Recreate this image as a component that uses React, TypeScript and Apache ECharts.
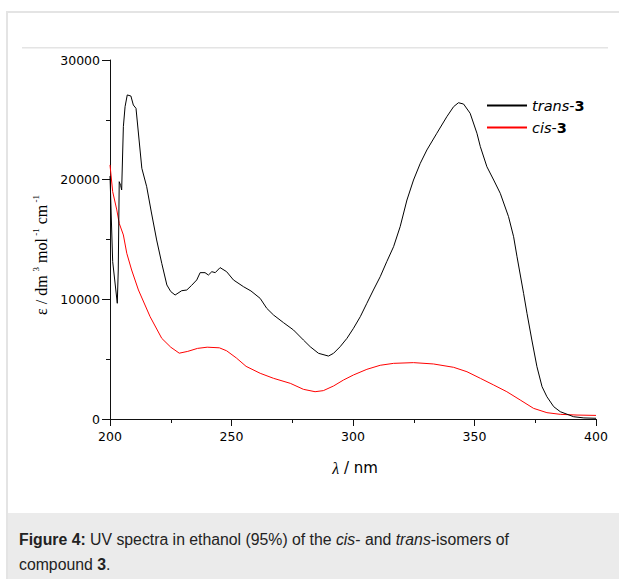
import React, { useEffect, useRef } from "react";
import * as echarts from "echarts";

const transLambda = [200.0, 201.1, 203.0, 203.4, 203.8, 204.4, 204.8, 205.5, 206.2, 207.1, 208.6, 209.6, 210.7, 213.1, 215.1, 217.0, 219.2, 221.3, 223.4, 225.0, 226.8, 229.5, 231.6, 233.5, 235.7, 237.1, 239.1, 240.5, 241.9, 243.3, 245.3, 248.0, 250.8, 254.9, 258.0, 261.8, 264.5, 267.3, 271.4, 275.5, 279.6, 282.4, 285.8, 289.9, 292.0, 294.7, 297.5, 300.2, 303.0, 305.7, 308.4, 311.2, 313.9, 316.7, 319.4, 322.2, 324.9, 327.7, 330.4, 334.5, 338.6, 341.4, 343.4, 345.5, 348.2, 351.0, 352.4, 355.1, 357.9, 360.6, 364.0, 366.1, 367.5, 370.2, 371.6, 373.6, 375.7, 377.8, 379.8, 382.6, 385.3, 390.8, 395.0, 400.0];
const transEps = [20300, 13150, 9670, 12450, 19830, 19500, 19140, 24430, 26100, 27080, 26990, 26240, 25960, 20950, 19410, 17300, 14960, 13010, 11200, 10650, 10360, 10720, 10780, 11150, 11620, 12230, 12230, 12030, 12310, 12230, 12650, 12310, 11620, 11060, 10700, 10080, 9250, 8690, 8050, 7440, 6600, 6040, 5490, 5260, 5490, 6040, 6740, 7580, 8550, 9670, 10780, 11890, 13150, 14400, 16070, 18300, 19970, 21370, 22480, 23880, 25260, 26100, 26430, 26320, 25550, 23880, 22760, 21080, 19970, 18860, 16910, 15230, 13560, 10500, 8830, 6600, 4370, 2700, 1860, 1030, 610, 190, 90, 60];

const cisLambda = [200.0, 201.1, 202.8, 203.8, 205.5, 206.9, 208.9, 211.7, 216.5, 221.3, 225.0, 228.5, 232.0, 236.0, 240.0, 245.0, 248.0, 252.0, 256.0, 261.8, 267.3, 274.2, 279.6, 284.4, 287.8, 292.0, 296.1, 300.2, 305.7, 311.2, 316.7, 324.9, 333.1, 341.4, 346.9, 352.4, 357.9, 363.3, 368.8, 374.3, 379.8, 385.3, 392.2, 400.0];
const cisEps = [21230, 19000, 17470, 16350, 15380, 13850, 12450, 10780, 8550, 6740, 6000, 5500, 5650, 5900, 6000, 5950, 5700, 5100, 4400, 3820, 3400, 2980, 2480, 2280, 2370, 2760, 3260, 3680, 4150, 4490, 4650, 4710, 4600, 4320, 3950, 3400, 2840, 2280, 1590, 890, 530, 390, 330, 300];

const seriesNames = ["trans-3", "cis-3"];
const xTicks = { min: 200, max: 400, interval: 50 };
const yTicks = { min: 0, max: 30000, interval: 10000 };

const zip = (xs: number[], ys: number[]) => xs.map((x, i) => [x, ys[i]]);

export default function App() {
  const ref = useRef<HTMLDivElement>(null);
  useEffect(() => {
    if (!ref.current) return;
    const chart = echarts.init(ref.current, null, { renderer: "svg" });
    const axisCommon = {
      type: "value" as const,
      axisLine: { show: true, onZero: false, lineStyle: { color: "#111", width: 1 } },
      splitLine: { show: false },
      minorTick: { show: true, splitNumber: 2, length: 4, lineStyle: { color: "#111", width: 1 } },
    };
    const legendFont = "DejaVu Sans";
    const capFont = "Liberation Sans, Arial, sans-serif";
    chart.setOption({
      animation: false,
      backgroundColor: "#ffffff",
      grid: { left: 110, top: 60, width: 486, height: 359, containLabel: false },
      xAxis: {
        ...axisCommon,
        min: xTicks.min,
        max: xTicks.max,
        interval: xTicks.interval,
        axisTick: { show: true, length: 7, lineStyle: { color: "#111", width: 1 } },
        axisLabel: { fontSize: 12.5, fontFamily: "DejaVu Sans", color: "#000", margin: 11, formatter: (v: number) => String(v) },
      },
      yAxis: {
        ...axisCommon,
        min: yTicks.min,
        max: yTicks.max,
        interval: yTicks.interval,
        axisTick: { show: true, length: 8, lineStyle: { color: "#111", width: 1 } },
        axisLabel: { fontSize: 12.5, fontFamily: "DejaVu Sans", color: "#000", margin: 10, formatter: (v: number) => String(v) },
      },
      legend: {
        orient: "vertical",
        left: 487,
        top: 97,
        padding: 0,
        itemWidth: 40,
        itemHeight: 2,
        itemGap: 5,
        icon: "rect",
        data: seriesNames,
        formatter: (name: string) =>
          name === "trans-3" ? "{i|trans}{n|-}{b|3}" : "{i|cis}{n|-}{b|3}",
        textStyle: {
          color: "#000",
          fontSize: 14.5,
          lineHeight: 17,
          fontFamily: legendFont,
          rich: {
            i: { fontStyle: "italic", fontSize: 14.5, lineHeight: 17, fontFamily: legendFont, color: "#000" },
            n: { fontSize: 14.5, lineHeight: 17, fontFamily: legendFont, color: "#000" },
            b: { fontWeight: "bold", fontSize: 14.5, lineHeight: 17, fontFamily: legendFont, color: "#000" },
          },
        },
      },
      series: [
        {
          name: seriesNames[0],
          type: "line",
          data: zip(transLambda, transEps),
          showSymbol: false,
          symbol: "none",
          z: 3,
          color: "#000000",
          lineStyle: { color: "#000000", width: 1 },
        },
        {
          name: seriesNames[1],
          type: "line",
          data: zip(cisLambda, cisEps),
          showSymbol: false,
          symbol: "none",
          z: 2,
          color: "#ff0000",
          lineStyle: { color: "#ff0000", width: 1 },
        },
      ],
      graphic: [
        { type: "rect", silent: true, z: -10, shape: { x: 6, y: 11, width: 2, height: 568 }, style: { fill: "#e4e4e4" } },
        { type: "rect", silent: true, z: -10, shape: { x: 6, y: 11, width: 613, height: 2 }, style: { fill: "#e4e4e4" } },
        { type: "rect", silent: true, z: -10, shape: { x: 22, y: 47, width: 586, height: 1.5 }, style: { fill: "#e4e4e4" } },
        { type: "rect", silent: true, z: -10, shape: { x: 8, y: 513, width: 611, height: 66 }, style: { fill: "#ebebeb" } },
        {
          type: "text",
          x: 19,
          y: 527,
          style: {
            text: "{b|Figure 4:} UV spectra in ethanol (95%) of the {i|cis}- and {i|trans}-isomers of\ncompound {b|3}.",
            fontSize: 15.8,
            lineHeight: 25,
            fontFamily: capFont,
            fill: "#222",
            align: "left",
            verticalAlign: "top",
            rich: {
              b: { fontWeight: "bold", fontSize: 15.8, lineHeight: 25, fontFamily: capFont, fill: "#222" },
              i: { fontStyle: "italic", fontSize: 15.8, lineHeight: 25, fontFamily: capFont, fill: "#222" },
            },
          },
        },
        {
          type: "text",
          x: 355,
          y: 468,
          style: {
            text: "{l|λ}{n| / nm}",
            align: "center",
            verticalAlign: "middle",
            rich: {
              l: { fontStyle: "italic", fontSize: 16, fontFamily: "Liberation Serif, serif", fill: "#000" },
              n: { fontSize: 15, fontFamily: "DejaVu Sans", fill: "#000" },
            },
          },
        },
        {
          type: "text",
          x: 41,
          y: 255,
          rotation: Math.PI / 2,
          style: {
            text: "{n|ε / dm }{s|3}{n| mol}{s| -1}{n| cm}{s| -1}",
            align: "center",
            verticalAlign: "middle",
            rich: {
              n: { fontSize: 16, lineHeight: 20, fontFamily: "Liberation Serif, serif", fill: "#000" },
              s: { fontSize: 9, lineHeight: 9, verticalAlign: "top", fontFamily: "Liberation Serif, serif", fill: "#000" },
            },
          },
        },
      ],
    });
    return () => chart.dispose();
  }, []);
  return (
    <div
      ref={ref}
      style={{ position: "absolute", left: 0, top: 0, width: 619, height: 579, background: "#fff" }}
    />
  );
}
